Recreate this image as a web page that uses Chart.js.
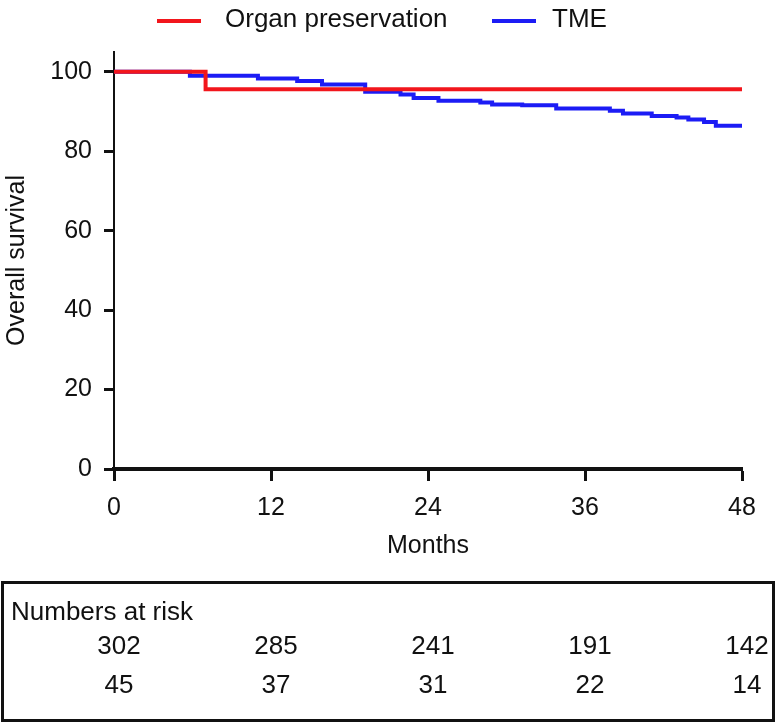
<!DOCTYPE html>
<html>
<head>
<meta charset="utf-8">
<script src="https://cdn.jsdelivr.net/npm/chart.js@4"></script>
<style>
  html, body { margin: 0; padding: 0; background: #fff; }
  canvas { display: block; }
</style>
</head>
<body>
<canvas id="km" width="779" height="723"></canvas>
<script>
// Kaplan-Meier steps (months, % survival)
const opMonths   = [0, 7, 48]
const opSurvival = [100, 95.6, 95.6]

const tmeMonths   = [0, 5.8, 11.0, 14.0, 15.9, 19.2, 21.9, 22.9, 24.8, 28.0, 28.9, 31.2, 33.8, 37.9, 38.9, 41.1, 43.0, 43.9, 45.1, 46.0, 48]
const tmeSurvival = [100, 99.0, 98.3, 97.7, 96.8, 95.0, 94.3, 93.4, 92.7, 92.3, 91.8, 91.6, 90.8, 90.2, 89.5, 88.9, 88.5, 88.0, 87.4, 86.4, 86.4]

const xTicks = [0, 12, 24, 36, 48]
const yTicks = [0, 20, 40, 60, 80, 100]

// numbers at risk
const riskMonths = [0, 12, 24, 36, 48]
const riskTME    = [302, 285, 241, 191, 142]
const riskOP     = [45, 37, 31, 22, 14]

const FONT = '"Liberation Sans", Arial, Helvetica, sans-serif'
const INK = '#111'
const RED = '#f2161c'
const BLUE = '#1c1cf5'

const toPts = (xs, ys) => xs.map((x, i) => ({ x, y: ys[i] }))

// legend + risk table drawn on the same canvas
const extras = {
  id: 'extras',
  afterDraw(chart) {
    const ctx = chart.ctx
    const xs = chart.scales.x
    ctx.save()
    // legend
    const legendPos = [{ l: 157, t: 225 }, { l: 492, t: 552 }]
    ctx.font = `26px ${FONT}`
    ctx.textBaseline = 'middle'
    ctx.textAlign = 'left'
    chart.data.datasets.forEach((d, i) => {
      ctx.strokeStyle = d.borderColor
      ctx.lineWidth = 4
      ctx.beginPath()
      ctx.moveTo(legendPos[i].l, 21)
      ctx.lineTo(legendPos[i].l + 44, 21)
      ctx.stroke()
      ctx.fillStyle = INK
      ctx.fillText(d.label, legendPos[i].t, 20)
    })

    // risk table
    ctx.strokeStyle = INK
    ctx.lineWidth = 3
    ctx.strokeRect(2.5, 582.5, 771, 138)
    ctx.fillStyle = INK
    ctx.font = `26px ${FONT}`
    ctx.textAlign = 'left'
    ctx.fillText('Numbers at risk', 11, 613)
    ctx.textAlign = 'center'
    riskMonths.forEach((m, i) => {
      const px = xs.getPixelForValue(m) + 5
      ctx.fillText(String(riskTME[i]), px, 647)
      ctx.fillText(String(riskOP[i]), px, 686)
    })
    ctx.restore()
  }
}

new Chart(document.getElementById('km'), {
  type: 'line',
  data: {
    datasets: [
      { label: 'Organ preservation', data: toPts(opMonths, opSurvival), borderColor: RED, borderWidth: 4, stepped: true, pointRadius: 0, fill: false, order: 0 },
      { label: 'TME', data: toPts(tmeMonths, tmeSurvival), borderColor: BLUE, borderWidth: 4, stepped: true, pointRadius: 0, fill: false, order: 1 },
    ]
  },
  options: {
    responsive: false,
    animation: false,
    layout: { padding: { top: 52, right: 37, bottom: 162, left: 0 } },
    plugins: { legend: { display: false }, tooltip: { enabled: false } },
    scales: {
      x: {
        type: 'linear', min: 0, max: 48,
        afterBuildTicks: s => { s.ticks = xTicks.map(v => ({ value: v })) },
        afterFit: s => { s.height = 92 },
        ticks: { color: INK, font: { family: FONT, size: 25 }, padding: 12, maxRotation: 0 },
        grid: { drawOnChartArea: false, drawTicks: true, tickLength: 12, tickWidth: 3, tickColor: INK },
        border: { display: true, color: INK, width: 4 },
        title: { display: true, text: 'Months', color: INK, font: { family: FONT, size: 25 }, padding: { top: 4, bottom: 0 } }
      },
      y: {
        type: 'linear', min: 0, max: 105,
        afterBuildTicks: s => { s.ticks = yTicks.map(v => ({ value: v })) },
        afterFit: s => { s.width = 114 },
        ticks: { color: INK, font: { family: FONT, size: 25 }, padding: 12 },
        grid: { drawOnChartArea: false, drawTicks: true, tickLength: 10, tickWidth: 3, tickColor: INK },
        border: { display: true, color: INK, width: 2 },
        title: { display: true, text: 'Overall survival', color: INK, font: { family: FONT, size: 25 }, padding: { top: 2, bottom: 0 } }
      }
    }
  },
  plugins: [extras]
})
</script>
</body>
</html>
